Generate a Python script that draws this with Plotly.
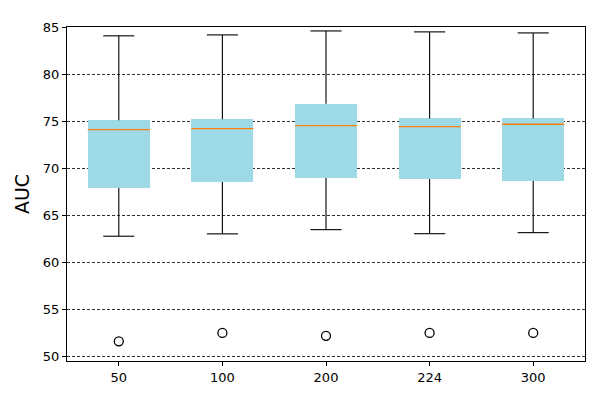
import plotly.graph_objects as go

# box statistics
sizes = ["50", "100", "200", "224", "300"]
whisker_low = [62.75, 63.0, 63.45, 63.02, 63.13]
q1 = [67.87, 68.52, 68.94, 68.84, 68.63]
median = [74.08, 74.2, 74.52, 74.41, 74.66]
q3 = [75.07, 75.18, 76.85, 75.28, 75.28]
whisker_high = [84.06, 84.16, 84.58, 84.48, 84.37]
outliers = [51.57, 52.47, 52.16, 52.47, 52.47]

BOX_COLOR = "#9edae5"
MEDIAN_COLOR = "#ff7f0e"
BOX_W = 0.6
CAP_W = 0.3

pos = list(range(1, len(sizes) + 1))


def segments(xs, y0s, y1s, dx=0.0):
    x, y = [], []
    for p, a, b in zip(xs, y0s, y1s):
        if dx:
            x += [p - dx, p + dx, None]
            y += [a, a, None]
        else:
            x += [p, p, None]
            y += [a, b, None]
    return x, y


fig = go.Figure()

# box bodies
fig.add_trace(go.Bar(
    x=pos, y=[b - a for a, b in zip(q1, q3)], base=q1, width=BOX_W,
    marker=dict(color=BOX_COLOR, line=dict(width=0)), showlegend=False,
))

line = dict(color="black", width=1.1)
# whiskers
wx, wy = segments(pos, whisker_low, q1)
fig.add_trace(go.Scatter(x=wx, y=wy, mode="lines", line=line, showlegend=False))
wx, wy = segments(pos, q3, whisker_high)
fig.add_trace(go.Scatter(x=wx, y=wy, mode="lines", line=line, showlegend=False))
# caps
cx, cy = segments(pos, whisker_low, whisker_low, CAP_W / 2)
fig.add_trace(go.Scatter(x=cx, y=cy, mode="lines", line=line, showlegend=False))
cx, cy = segments(pos, whisker_high, whisker_high, CAP_W / 2)
fig.add_trace(go.Scatter(x=cx, y=cy, mode="lines", line=line, showlegend=False))
# medians
mx, my = segments(pos, median, median, BOX_W / 2)
fig.add_trace(go.Scatter(x=mx, y=my, mode="lines",
                         line=dict(color=MEDIAN_COLOR, width=1.3), showlegend=False))
# outliers
fig.add_trace(go.Scatter(
    x=pos, y=outliers, mode="markers", showlegend=False,
    marker=dict(symbol="circle-open", size=9, color="black", line=dict(width=1.3)),
))

# page body has an 8px margin, so the figure is 8px smaller than the window
fig.update_layout(
    width=592, height=392,
    margin=dict(l=59, r=15, t=13, b=39),
    paper_bgcolor="white", plot_bgcolor="white",
    font=dict(family="DejaVu Sans", size=13, color="black"),
    bargap=0,
)
fig.update_xaxes(
    range=[0.5, 5.5], tickvals=pos, ticktext=sizes,
    showgrid=False, zeroline=False,
    showline=True, linecolor="black", linewidth=1, mirror=True,
    ticks="outside", ticklen=4, tickcolor="black",
)
fig.update_yaxes(
    range=[49.48, 85.0], tickvals=[50, 55, 60, 65, 70, 75, 80, 85],
    showgrid=True, gridcolor="#333333", gridwidth=0.6, griddash="3px,2px",
    zeroline=False,
    showline=True, linecolor="black", linewidth=1, mirror=True,
    ticks="outside", ticklen=4, tickcolor="black",
    title=dict(text="AUC", font=dict(size=19), standoff=8),
)

fig.write_html("out.html")
